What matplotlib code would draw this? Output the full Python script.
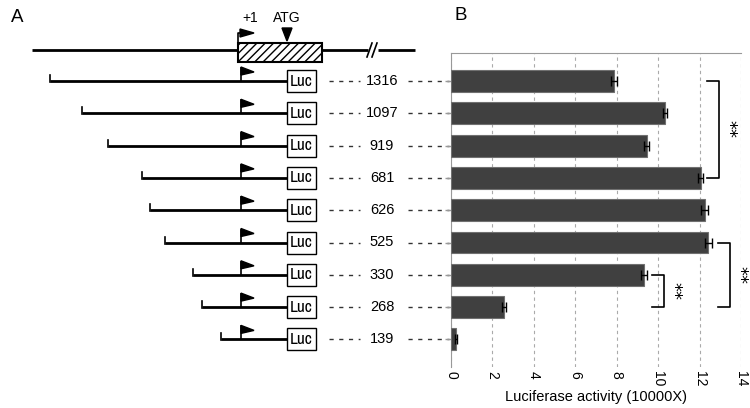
import matplotlib
matplotlib.use('Agg')
import matplotlib.pyplot as plt
from matplotlib import font_manager
from matplotlib.patches import Rectangle, Polygon

plt.rcParams['font.family'] = ['Liberation Sans', 'DejaVu Sans']

# donnees
constructs = ['1316', '1097', '919', '681', '626', '525', '330', '268', '139']
lengths = [1316, 1097, 919, 681, 626, 525, 330, 268, 139]
activity = [7.87, 10.34, 9.45, 12.05, 12.24, 12.43, 9.32, 2.56, 0.23]
errors = [0.13, 0.10, 0.12, 0.12, 0.16, 0.15, 0.13, 0.08, 0.05]
xticks = [0, 2, 4, 6, 8, 10, 12, 14]
# paires significatives (indice haut, indice bas, position x)
signif = [(0, 3, 12.95), (5, 7, 13.48), (6, 7, 10.29)]

# police etroite (reguliere) pour "Luc" si disponible
cond = [f for f in font_manager.fontManager.ttflist
        if ('Narrow' in f.name or 'Condensed' in f.name
            or f.stretch in ('condensed', 'semi-condensed'))
        and f.weight in (400, 'normal', 'regular', 'book') and f.style == 'normal']
cond.sort(key=lambda f: ('Narrow' not in f.name, f.name))
if cond:
    luc_font = dict(fontproperties=font_manager.FontProperties(fname=cond[0].fname, size=12.5))
else:
    luc_font = dict(fontsize=11)

fig = plt.figure(figsize=(7.5, 4.08), dpi=100)

## ---- panneau A : schema, x en pixels, y en "rangees"
ROW = 32.3   # pixels par rangee
Y0 = 81.0    # pixel de la rangee 0


def yr(ypix):
    return (ypix - Y0) / ROW


def dy(p):
    return p / ROW


axA = fig.add_axes([0, 0, 1, 1])
axA.set_xlim(0, 750)
axA.set_ylim(yr(408), yr(0))
axA.axis('off')

x_tss = 241      # position du +1
bp_px = 0.145    # pixels par paire de bases
x_luc = 287
w_luc = 29
tirets = (0, (3, 4))

# gene en haut
yh = yr(50)
axA.plot([32, 238], [yh, yh], color='black', lw=2, solid_capstyle='butt')
axA.add_patch(Rectangle((238, yr(43)), 84, dy(19), facecolor='white',
                        edgecolor='black', lw=1.5, hatch='////'))
axA.plot([322, 368], [yh, yh], color='black', lw=2, solid_capstyle='butt')
axA.plot([378, 415], [yh, yh], color='black', lw=2, solid_capstyle='butt')
for xs in (367, 372):
    axA.plot([xs, xs + 5], [yr(57), yr(43)], color='black', lw=1.2)
# fleche +1
axA.plot([238, 238, 242], [yr(43), yr(33), yr(33)], color='black', lw=1.2)
axA.add_patch(Polygon([(240, yr(29)), (240, yr(37)), (254, yr(33))],
                      closed=True, color='black'))
axA.text(250, yr(18), '+1', ha='center', va='center', fontsize=10)
# ATG
axA.add_patch(Polygon([(282, yr(28)), (292, yr(28)), (287, yr(41))],
                      closed=True, color='black'))
axA.text(287, yr(18), 'ATG', ha='center', va='center', fontsize=10)

axA.text(17, yr(17), 'A', ha='center', va='center', fontsize=13.5)
axA.text(461, yr(15), 'B', ha='center', va='center', fontsize=13.5)

for i, (lab, L) in enumerate(zip(constructs, lengths)):
    xs = x_tss - L * bp_px
    axA.plot([xs, x_luc], [i, i], color='black', lw=2, solid_capstyle='butt')
    axA.plot([xs, xs], [i + dy(1), i - dy(6)], color='black', lw=1.2)
    # drapeau
    axA.plot([x_tss, x_tss], [i, i - dy(13)], color='black', lw=1.2)
    axA.add_patch(Polygon([(x_tss, i - dy(14)), (x_tss, i - dy(6)),
                           (x_tss + 13, i - dy(9))], closed=True, color='black'))
    axA.add_patch(Rectangle((x_luc, i - dy(11)), w_luc, dy(22),
                            facecolor='white', edgecolor='black', lw=1))
    axA.text(x_luc + w_luc / 2, i, 'Luc', ha='center', va='center', **luc_font)
    axA.plot([329, 360], [i, i], color='#333333', lw=1, ls=tirets)
    axA.text(382, i, lab, ha='center', va='center', fontsize=10.5)
    axA.plot([408, 449], [i, i], color='#333333', lw=1, ls=tirets)

## ---- panneau B : histogramme horizontal
axB = fig.add_axes([451 / 750, 1 - 367 / 408, 290 / 750, 314 / 408])
ypos = list(range(len(activity)))
axB.barh(ypos, activity, height=0.68, color='#404040', edgecolor='#707070',
         lw=0.8, xerr=errors, zorder=3,
         error_kw=dict(ecolor='black', elinewidth=1, capsize=3.5, capthick=1))
axB.set_xlim(0, 14)
axB.set_ylim(yr(367), yr(53))
axB.set_xticks(xticks)
axB.set_xticklabels([str(t) for t in xticks], rotation=-90, fontsize=10)
axB.tick_params(axis='x', length=0, pad=3)
axB.set_yticks(ypos)
axB.set_yticklabels([])
axB.tick_params(axis='y', length=4, color='#999999', width=1)
axB.grid(axis='x', color='#aaaaaa', ls=(0, (3, 3)), lw=0.8, zorder=0)
axB.spines['right'].set_visible(False)
axB.spines['bottom'].set_visible(False)
axB.spines['top'].set_color('#999999')
axB.spines['left'].set_color('#999999')
axB.set_xlabel('Luciferase activity (10000X)', fontsize=10.5)
axB.xaxis.set_label_coords(0.5, -0.074)

for top, bot, xb in signif:
    axB.plot([xb - 0.58, xb, xb, xb - 0.58], [top, top, bot, bot],
             color='black', lw=1.2, clip_on=False, zorder=4)
    axB.text(xb + 0.45, (top + bot) / 2, '**', rotation=-90, ha='center',
             va='center', fontsize=13, family='DejaVu Sans', clip_on=False)

fig.savefig('out.png', dpi=100)
